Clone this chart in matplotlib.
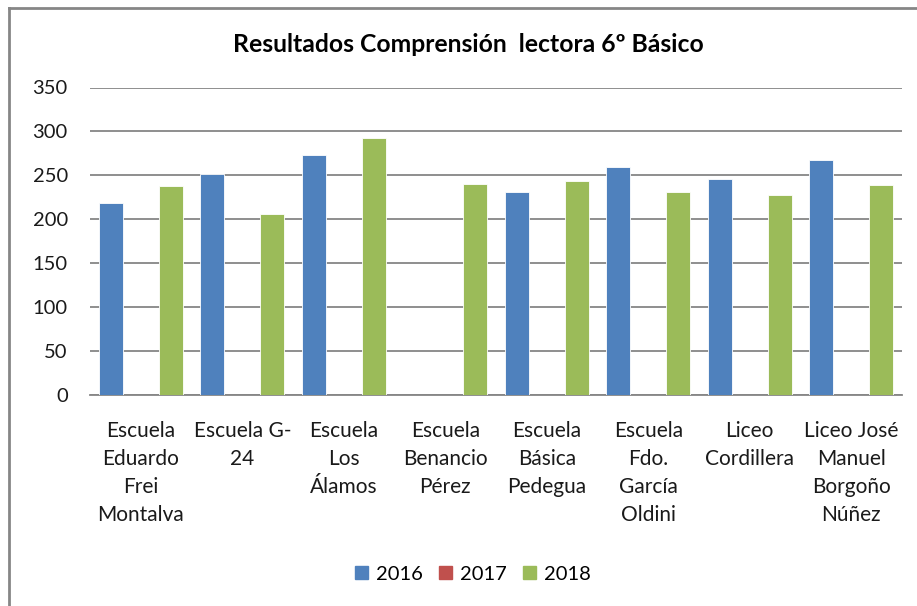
import numpy as np
import matplotlib
matplotlib.use("Agg")
import matplotlib.pyplot as plt
from matplotlib.lines import Line2D

plt.rcParams['font.family'] = ['Lato', 'DejaVu Sans']

categories = ["Escuela\nEduardo\nFrei\nMontalva", "Escuela G-\n24", "Escuela\nLos\nÁlamos",
              "Escuela\nBenancio\nPérez", "Escuela\nBásica\nPedegua", "Escuela\nFdo.\nGarcía\nOldini",
              "Liceo\nCordillera", "Liceo José\nManuel\nBorgoño\nNúñez"]
series_names = ["2016", "2017", "2018"]
v2016 = [218, 251, 273, np.nan, 231, 259, 246, 267]
v2017 = [np.nan] * 8
v2018 = [238, 206, 292, 240, 244, 231, 228, 239]
colors = ["#4F81BD", "#C0504D", "#9BBB59"]
yticks = [0, 50, 100, 150, 200, 250, 300, 350]

W, H = 917, 606
fig = plt.figure(figsize=(W / 100, H / 100), dpi=100)
ax = fig.add_axes([90 / W, 1 - 395 / H, 812 / W, (395 - 87.5) / H])

x = np.arange(len(categories))
offsets = [-0.295, 0.0, 0.295]
width = 0.235
handles = []
for vals, off, c, name in zip([v2016, v2017, v2018], offsets, colors, series_names):
    ax.bar(x + off, vals, width=width, color=c, edgecolor="white", linewidth=0.6, zorder=3)
    handles.append(plt.Rectangle((0, 0), 1, 1, color=c, label=name))

ax.set_xlim(-0.5, len(categories) - 0.5)
ax.set_ylim(0, 350)
ax.set_yticks(yticks)
ax.yaxis.grid(True, color="#868686", linewidth=1.3, zorder=0)
ax.set_axisbelow(True)
for s in ["left", "right", "top"]:
    ax.spines[s].set_visible(False)
ax.spines["bottom"].set_color("#868686")
ax.spines["bottom"].set_linewidth(1.3)
ax.tick_params(axis="y", length=0, pad=16, labelsize=14.5, labelcolor="#1a1a1a")
ax.tick_params(axis="x", length=0, pad=19, labelsize=15, labelcolor="#1a1a1a")
ax.set_xticks(x)
ax.set_xticklabels(categories, linespacing=1.5, va="top")

fig.text(468 / W, 1 - 44 / H, "Resultados Comprensión  lectora 6º Básico",
         ha="center", va="center", fontsize=17.8, fontweight="bold", color="#000000")

fig.legend(handles=handles, loc="center", bbox_to_anchor=(473 / W, 1 - 574 / H),
           ncol=3, frameon=False, fontsize=14.5, handlelength=0.65, handleheight=0.65,
           handletextpad=0.4, columnspacing=0.8)

# outer chart border (top and left visible)
fig.add_artist(Line2D([9 / W, 1.0], [1 - 8 / H, 1 - 8 / H], transform=fig.transFigure,
                      color="#868686", linewidth=2))
fig.add_artist(Line2D([9 / W, 9 / W], [0.0, 1 - 8 / H], transform=fig.transFigure,
                      color="#868686", linewidth=2))

fig.savefig("out.png", dpi=100)
